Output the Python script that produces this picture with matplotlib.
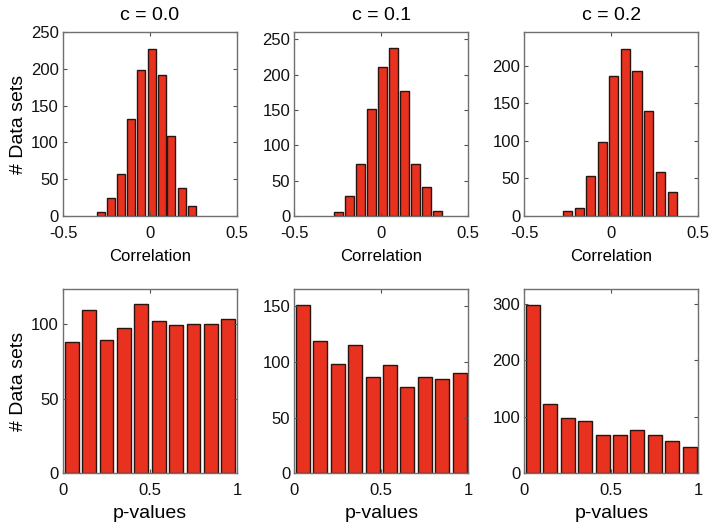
import matplotlib
matplotlib.use('Agg')
import matplotlib.pyplot as plt

plt.rcParams['font.family'] = ['Liberation Sans', 'DejaVu Sans']

titles = ['c = 0.0', 'c = 0.1', 'c = 0.2']

# correlation histograms (bin centres and counts)
corr_centers = [
    [-0.283, -0.223, -0.165, -0.108, -0.050, 0.010, 0.067, 0.123, 0.183, 0.240],
    [-0.246, -0.183, -0.119, -0.058, 0.006, 0.069, 0.133, 0.196, 0.260, 0.321],
    [-0.250, -0.183, -0.119, -0.052, 0.013, 0.080, 0.148, 0.215, 0.283, 0.350],
]
corr_counts = [
    [5, 25, 57, 132, 199, 227, 191, 109, 38, 14],
    [6, 28, 73, 151, 211, 237, 176, 73, 41, 7],
    [7, 10, 53, 98, 186, 223, 193, 140, 59, 32],
]
corr_ylim = [250, 260, 245]
corr_yticks = [[0, 50, 100, 150, 200, 250], [0, 50, 100, 150, 200, 250], [0, 50, 100, 150, 200]]

# p-value histograms
p_centers = [0.05, 0.15, 0.25, 0.35, 0.45, 0.55, 0.65, 0.75, 0.85, 0.95]
p_counts = [
    [88, 109, 89, 97, 113, 102, 99, 100, 100, 103],
    [151, 119, 98, 115, 86, 97, 77, 86, 85, 90],
    [298, 123, 98, 93, 67, 67, 77, 68, 57, 46],
]
p_ylim = [123, 165, 325]
p_yticks = [[0, 50, 100], [0, 50, 100, 150], [0, 100, 200, 300]]

bar_color = '#e8321f'
edge = '#2a1410'

fig = plt.figure(figsize=(7.09, 5.24), dpi=100)
lefts = [0.0889, 0.4151, 0.7395]
w, h = 0.2454, 0.351


def style(ax):
    for s in ax.spines.values():
        s.set_color('#707070')
        s.set_linewidth(1.0)
    ax.tick_params(direction='in', length=3, width=0.8, color='#505050',
                   top=True, right=True, labelsize=12, labelcolor='#111111')
    ax.tick_params(axis='x', pad=7)
    ax.tick_params(axis='y', pad=3)


for i in range(3):
    ax = fig.add_axes([lefts[i], 0.5878, w, h])
    c = corr_centers[i]
    bw = 0.8 * (c[-1] - c[0]) / 9
    ax.bar(c, corr_counts[i], width=bw, color=bar_color, edgecolor=edge, linewidth=1)
    ax.set_xlim(-0.5, 0.5)
    ax.set_xticks([-0.5, 0, 0.5])
    ax.set_xticklabels(['-0.5', '0', '0.5'])
    ax.set_ylim(0, corr_ylim[i])
    ax.set_yticks(corr_yticks[i])
    ax.set_title(titles[i], fontsize=14, pad=9)
    ax.set_xlabel('Correlation', fontsize=12, labelpad=6)
    if i == 0:
        ax.set_ylabel('# Data sets', fontsize=14, labelpad=3)
    style(ax)

for i in range(3):
    ax = fig.add_axes([lefts[i], 0.0968, w, h])
    ax.bar(p_centers, p_counts[i], width=0.08, color=bar_color, edgecolor=edge, linewidth=1)
    ax.set_xlim(0, 1)
    ax.set_xticks([0, 0.5, 1])
    ax.set_xticklabels(['0', '0.5', '1'])
    ax.set_ylim(0, p_ylim[i])
    ax.set_yticks(p_yticks[i])
    ax.set_xlabel('p-values', fontsize=14, labelpad=5)
    if i == 0:
        ax.set_ylabel('# Data sets', fontsize=14, labelpad=3)
    style(ax)

fig.savefig('out.png', dpi=100)
